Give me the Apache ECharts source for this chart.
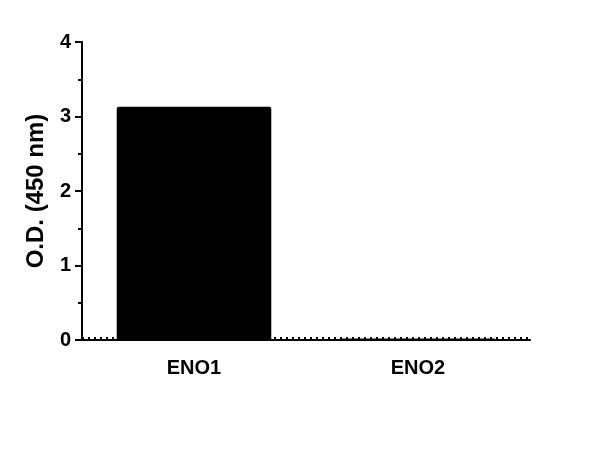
<!DOCTYPE html>
<html><head><meta charset="utf-8">
<script src="https://cdn.jsdelivr.net/npm/echarts@6/dist/echarts.min.js"></script>
<style>html,body{margin:0;padding:0;background:#fff}#c{width:600px;height:471px}</style>
</head><body><div id="c"></div>
<script>
const categories = ['ENO1', 'ENO2'];
const odValues = [3.13, 0.02];
const yTicks = [0, 1, 2, 3, 4];
const blankLevel = [0.03];

const chart = echarts.init(document.getElementById('c'));
const font = '"Liberation Sans", Arial, sans-serif';
chart.setOption({
  animation: false,
  grid: { left: 82, top: 42, right: 70, bottom: 131 },
  xAxis: {
    type: 'category', data: categories,
    axisLine: { lineStyle: { color: '#000', width: 2 } },
    axisTick: { alignWithLabel: true, length: 7, lineStyle: { color: '#000', width: 2 } },
    axisLabel: { color: '#000', fontFamily: font, fontWeight: 'bold', fontSize: 20, margin: 18 }
  },
  yAxis: {
    type: 'value', min: yTicks[0], max: yTicks[yTicks.length-1], interval: 1,
    name: 'O.D. (450 nm)', nameLocation: 'middle', nameGap: 34,
    nameTextStyle: { color: '#000', fontFamily: font, fontWeight: 'bold', fontSize: 24 },
    axisLine: { show: true, lineStyle: { color: '#000', width: 2 } },
    axisTick: { show: true, length: 7, lineStyle: { color: '#000', width: 2 } },
    minorTick: { show: true, splitNumber: 2, length: 4, lineStyle: { color: '#000', width: 2 } },
    splitLine: { show: false },
    axisLabel: { color: '#000', fontFamily: font, fontWeight: 'bold', fontSize: 20, margin: 11 }
  },
  series: [{
    type: 'bar', data: odValues, barWidth: '69%',
    itemStyle: { color: '#000', borderRadius: [2, 2, 0, 0] },
    markLine: {
      silent: true, symbol: 'none', label: { show: false },
      lineStyle: { type: [2, 4], color: '#000', width: 2 },
      data: [{ yAxis: blankLevel[0] }]
    },
    z: 3
  }]
});
</script></body></html>
